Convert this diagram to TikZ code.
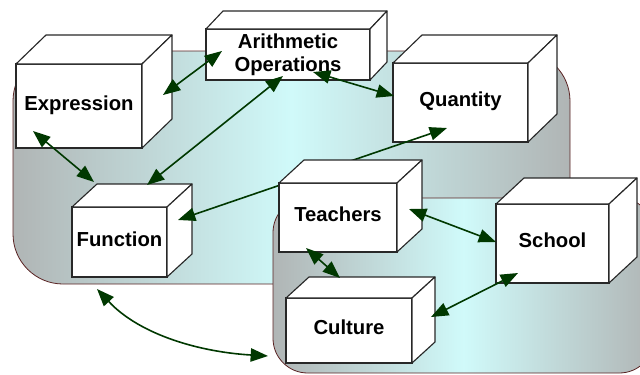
\documentclass[tikz,border=0pt]{standalone}
\usepackage{fontspec}
\setmainfont{Liberation Sans}
\usetikzlibrary{arrows.meta,calc}
\definecolor{edgegray}{RGB}{176,181,181}
\definecolor{midcyan}{RGB}{208,250,250}
\definecolor{rim}{RGB}{90,35,35}
\definecolor{arrgreen}{RGB}{0,56,0}
\definecolor{boxline}{RGB}{40,40,40}
\newcommand\pxu{0.75pt}
% style, name, cx, cy, w, h, dx, dy, text
\newcommand\mycube[9]{%
  \node[face,#1, minimum width={#5*\pxu}, minimum height={#6*\pxu}] (#2) at (#3,#4) {#9};
  \draw[facedraw] (#2.north west) -- ++(#7,#8) -- ($(#2.north east)+(#7,#8)$) -- (#2.north east) -- cycle;
  \draw[facedraw] (#2.north east) -- ++(#7,#8) -- ($(#2.south east)+(#7,#8)$) -- (#2.south east) -- cycle;
}
\begin{document}
\begin{tikzpicture}[x=0.75pt,y=-0.75pt,
  face/.style={draw=boxline, fill=white, line width=0.85pt, inner sep=0pt, outer sep=0pt,
    font=\fontsize{15.2}{17.3}\selectfont\bfseries, align=center},
  oneline/.style={text height=11pt, text depth=4.5pt},
  twoline/.style={},
  facedraw/.style={draw=boxline, fill=white, line width=0.85pt, line join=round},
  region/.style={draw=rim, line width=0.6pt, left color=edgegray, right color=edgegray, middle color=midcyan},
  arr/.style={draw=arrgreen, line width=1.2pt,
    {Triangle[length=13pt,width=10pt]}-{Triangle[length=13pt,width=10pt]}}]
\useasboundingbox (0,0) rectangle (640,375);
\clip (0,0) rectangle (640,375);
% background regions
\shadedraw[region, rounded corners=37.5pt] (13,51) rectangle (570,284);
\shadedraw[region, rounded corners=26pt] (273,198) rectangle (654,373);
% boxes
\mycube{oneline}{expr}{79}{106}{126}{84}{30}{-29}{Expression}
\mycube{twoline}{arith}{288}{54.5}{164}{51}{17}{-18}{Arithmetic\\Operations}
\mycube{oneline}{quant}{460.5}{102.5}{135}{79}{29}{-28}{Quantity}
\mycube{oneline}{func}{119.5}{242}{95}{70}{25}{-23}{Function}
\mycube{oneline}{school}{552.5}{243.5}{113}{79}{28}{-26}{School}
\mycube{oneline}{cult}{349}{330.5}{126}{65}{23}{-21}{Culture}
% connector passing behind Teachers
\draw[arr] ($(quant)+(-13.5,25.5)$) -- ($(func)+(58.5,-22)$);
\mycube{oneline}{teach}{338}{217.5}{118}{69}{25}{-23}{Teachers}
% connectors
\draw[arr] ($(expr)+(84,-11)$) -- ($(arith)+(-66,-3.5)$);
\draw[arr] ($(expr)+(-46,25)$) -- ($(func)+(-25.5,-60)$);
\draw[arr] ($(func)+(27.5,-57)$) -- ($(arith)+(-5,21.5)$);
\draw[arr] ($(arith)+(25,17.5)$) -- ($(quant)+(-66.5,-6.5)$);
\draw[arr] ($(teach)+(71,-8.5)$) -- ($(school)+(-56.5,-1.5)$);
\draw[arr] ($(teach)+(-32,30.5)$) -- ($(cult)+(-9,-52.5)$);
\draw[arr] ($(school)+(-34.5,29.5)$) -- ($(cult)+(82,-13.5)$);
\draw[arr] ($(func)+(-22.5,47)$) .. controls (140,335) and (200,352) .. ($(cult)+(-81,25.5)$);
\end{tikzpicture}
\end{document}
